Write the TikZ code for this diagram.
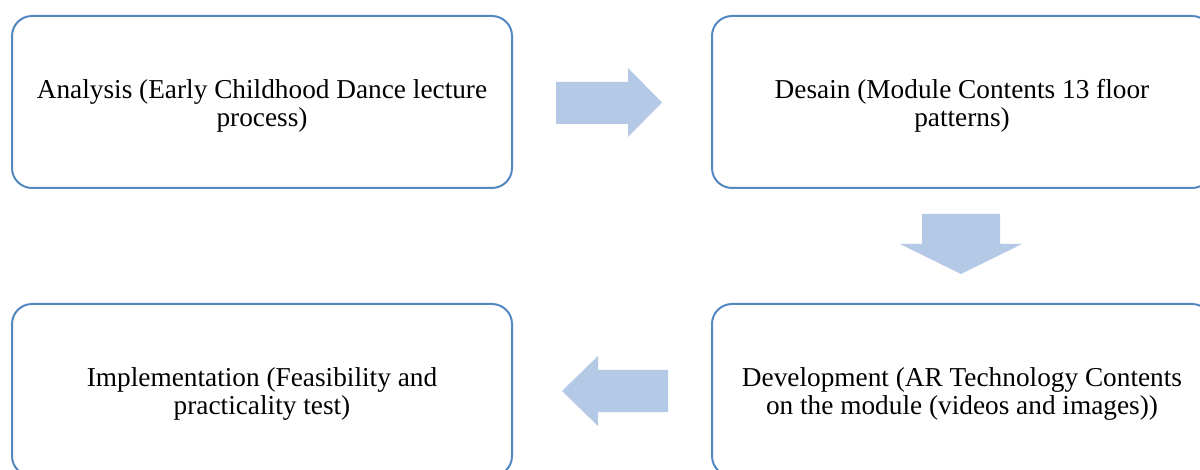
\documentclass[tikz,border=0pt]{standalone}
\usepackage{fontspec}
\setmainfont{Liberation Serif}
\definecolor{boxblue}{RGB}{84,136,193}
\definecolor{arrowblue}{RGB}{180,201,230}
\newcommand{\lowerstrut}{\rule{0pt}{26pt}}
\tikzset{
  stagebox/.style={draw=boxblue, line width=2pt, rounded corners=20pt, fill=white,
    minimum width=500pt, minimum height=172pt, align=center, inner sep=0pt,
    font=\fontsize{27.3pt}{28pt}\selectfont},
  blockarrow/.style={fill=arrowblue, draw=none}
}
\begin{document}
\begin{tikzpicture}[x=1pt,y=-1pt]
\useasboundingbox (0,0) rectangle (1200,470);
\fill[white] (0,0) rectangle (1200,470);
\begin{scope}
\clip (0,0) rectangle (1200,470);
\node[stagebox] (analysis) at (262,102) {\lowerstrut Analysis (Early Childhood Dance lecture\\process)};
\node[stagebox] (desain) at (962,102) {\lowerstrut Desain (Module Contents 13 floor\\patterns)};
\node[stagebox] (develop) at (962,390) {\lowerstrut Development (AR Technology Contents\\on the module (videos and images))};
\node[stagebox] (implement) at (262,390) {\lowerstrut Implementation (Feasibility and\\practicality test)};
\end{scope}
\fill[blockarrow] (556,82) -- (628,82) -- (628,68) -- (662,102.5) -- (628,137) -- (628,124) -- (556,124) -- cycle;
\fill[blockarrow] (922,214) -- (1000,214) -- (1000,244) -- (1022,244) -- (961,274) -- (900,244) -- (922,244) -- cycle;
\fill[blockarrow] (668,370) -- (598,370) -- (598,356) -- (562,391) -- (598,426) -- (598,412) -- (668,412) -- cycle;
\end{tikzpicture}
\end{document}
